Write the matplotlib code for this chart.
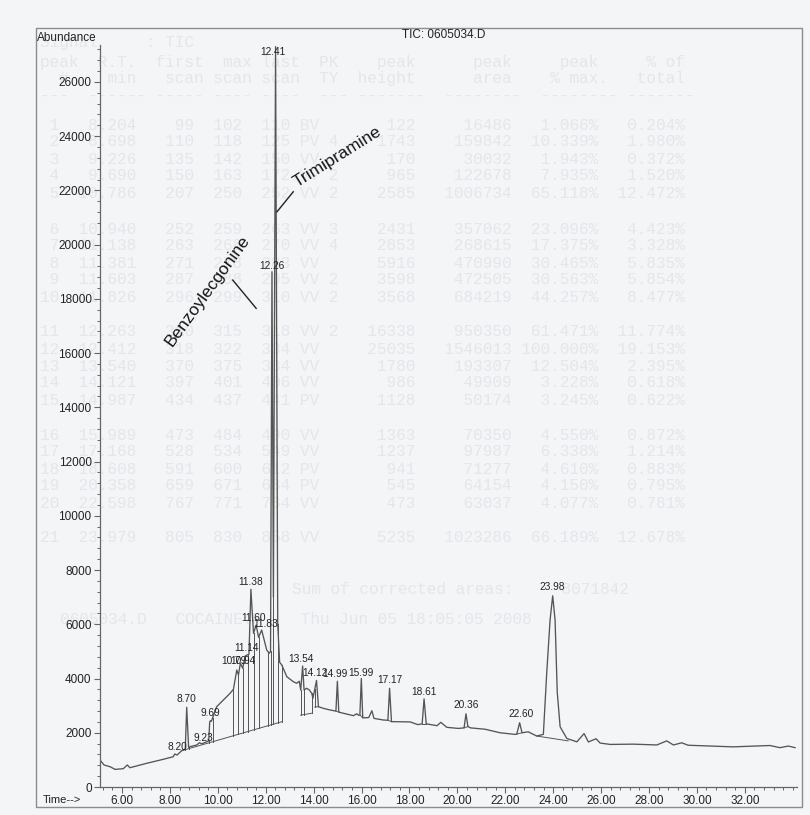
import matplotlib
matplotlib.use('Agg')
import matplotlib.pyplot as plt
from matplotlib.ticker import MultipleLocator, FormatStrFormatter
from matplotlib.patches import Rectangle
import numpy as np

plt.rcParams['font.family'] = ['Liberation Sans', 'DejaVu Sans']

tempo = [5.08, 5.25, 5.50, 5.71, 6.05, 6.22, 6.33, 7.03, 7.72, 8.14, 8.20, 8.30,
         8.49, 8.64, 8.70, 8.78, 8.84, 9.12, 9.23, 9.32, 9.54, 9.62, 9.66, 9.69,
         9.73, 9.95, 10.16, 10.51, 10.65, 10.79, 10.86, 10.94, 11.04, 11.14, 11.30,
         11.38, 11.49, 11.60, 11.70, 11.83, 12.04, 12.15, 12.20, 12.26, 12.32, 12.41,
         12.50, 12.58, 12.67, 12.88, 13.15, 13.29, 13.40, 13.46, 13.54, 13.60, 13.71,
         13.82, 13.92, 13.97, 14.12, 14.20, 14.41, 14.69, 14.93, 14.99, 15.05, 15.66,
         15.80, 15.88, 15.93, 15.99, 16.05, 16.30, 16.43, 16.52, 16.91, 17.10, 17.17,
         17.25, 18.03, 18.35, 18.53, 18.61, 18.70, 19.15, 19.31, 19.56, 20.04, 20.28,
         20.36, 20.44, 20.55, 21.16, 21.78, 22.41, 22.48, 22.60, 22.70, 22.96, 23.31,
         23.59, 23.73, 23.87, 23.98, 24.08, 24.17, 24.29, 24.57, 24.99, 25.29, 25.47,
         25.79, 25.96, 26.38, 27.35, 28.33, 28.74, 29.02, 29.37, 29.63, 31.52, 33.05,
         33.47, 33.82, 34.10]
abundancia = [995, 811, 748, 650, 675, 811, 711, 874, 1021, 1117, 1217, 1180,
              1338, 1400, 2939, 1460, 1486, 1549, 1633, 1590, 1670, 1700, 2400, 2445,
              2420, 2960, 3145, 3455, 3600, 4314, 4130, 4560, 4380, 4830, 4900,
              7290, 5667, 5973, 5519, 5788, 5051, 4930, 5000, 19000, 7000, 27300,
              6000, 4600, 4498, 4067, 3882, 3823, 3900, 3576, 4461, 3576, 3640,
              3576, 3455, 3270, 3930, 2960, 2900, 2839, 2800, 3900, 2760, 2630,
              2700, 2640, 2660, 4000, 2550, 2560, 2813, 2530, 2470, 2460, 3640,
              2410, 2400, 2300, 2330, 3250, 2330, 2260, 2385, 2200, 2160, 2180,
              2700, 2230, 2180, 2130, 2000, 1940, 1950, 2370, 2000, 2035, 1880,
              1940, 4185, 6150, 7050, 6150, 3500, 2220, 1790, 1665, 1970, 1660,
              1780, 1620, 1570, 1580, 1550, 1700, 1550, 1630, 1540, 1480, 1530,
              1450, 1510, 1450]

# Picos rotulados (tempo de retencao)
picos_rt = [8.20, 8.70, 9.23, 9.69, 10.79, 10.94, 11.14, 11.38, 11.60, 11.83, 12.26,
            12.41, 13.54, 14.12, 14.99, 15.99, 17.17, 18.61, 20.36, 22.60, 23.98]

# Linhas de base da integracao (inicio/fim) e linhas de queda
base_t0 = [8.49, 13.46, 14.05, 14.93, 15.93, 17.10, 18.53, 20.28, 22.48, 23.31]
base_v0 = [1338, 2650, 2950, 2800, 2660, 2460, 2330, 2180, 1950, 1880]
base_t1 = [12.67, 13.92, 14.20, 15.05, 16.05, 17.25, 18.70, 20.44, 22.70, 24.63]
base_v1 = [2408, 2720, 2960, 2760, 2550, 2410, 2330, 2230, 2000, 1700]
quedas_t = [8.64, 8.78, 9.62, 9.78, 10.65, 10.86, 11.04, 11.25, 11.49, 11.70, 12.10,
            12.20, 12.32, 12.50, 12.67, 13.46, 13.60, 13.92, 14.05, 14.20]

# Tabela impressa no verso da folha (aparece apagada no scan)
tabela = [
    (1, '8.204', 99, 102, 110, 'BV', '', 122, 16486, '1.066%', '0.204%'),
    (2, '8.698', 110, 118, 125, 'PV', '4', 1743, 159842, '10.339%', '1.980%'),
    (3, '9.226', 135, 142, 150, 'VV', '', 170, 30032, '1.943%', '0.372%'),
    (4, '9.690', 150, 163, 172, 'VV', '2', 965, 122678, '7.935%', '1.520%'),
    (5, '10.786', 207, 250, 252, 'VV', '2', 2585, 1006734, '65.118%', '12.472%'),
    (6, '10.940', 252, 259, 263, 'VV', '3', 2431, 357062, '23.096%', '4.423%'),
    (7, '11.138', 263, 268, 270, 'VV', '4', 2853, 268615, '17.375%', '3.328%'),
    (8, '11.381', 271, 278, 283, 'VV', '', 5916, 470990, '30.465%', '5.835%'),
    (9, '11.603', 287, 288, 295, 'VV', '2', 3598, 472505, '30.563%', '5.854%'),
    (10, '11.826', 296, 299, 310, 'VV', '2', 3568, 684219, '44.257%', '8.477%'),
    (11, '12.263', 310, 315, 318, 'VV', '2', 16338, 950350, '61.471%', '11.774%'),
    (12, '12.412', 318, 322, 334, 'VV', '', 25035, 1546013, '100.000%', '19.153%'),
    (13, '13.540', 370, 375, 384, 'VV', '', 1780, 193307, '12.504%', '2.395%'),
    (14, '14.121', 397, 401, 406, 'VV', '', 986, 49909, '3.228%', '0.618%'),
    (15, '14.987', 434, 437, 441, 'PV', '', 1128, 50174, '3.245%', '0.622%'),
    (16, '15.989', 473, 484, 490, 'VV', '', 1363, 70350, '4.550%', '0.872%'),
    (17, '17.168', 528, 534, 549, 'VV', '', 1237, 97987, '6.338%', '1.214%'),
    (18, '18.608', 591, 600, 612, 'PV', '', 941, 71277, '4.610%', '0.883%'),
    (19, '20.358', 659, 671, 684, 'PV', '', 545, 64154, '4.150%', '0.795%'),
    (20, '22.598', 767, 771, 784, 'VV', '', 473, 63037, '4.077%', '0.781%'),
    (21, '23.979', 805, 830, 858, 'VV', '', 5235, 1023286, '66.189%', '12.678%'),
]
tabela_y = [125, 142, 159, 176, 193, 229, 246, 263, 280, 297, 332, 349, 366, 383, 400,
            435, 452, 469, 486, 503, 537]

W, H = 810, 815
fig = plt.figure(figsize=(W / 100, H / 100), dpi=100, facecolor='#f3f5f7')

def fx(x):
    return x / W

def fy(y):
    return 1 - y / H

# Texto apagado do verso
cor_fundo = '#e3e7eb'
fonte_mono = dict(family='Liberation Mono', fontsize=11.6, color=cor_fundo, va='center', ha='left', zorder=-2)
fig.text(fx(40), fy(42), 'Signal     : TIC', **fonte_mono)
fig.text(fx(40), fy(62), 'peak  R.T.  first  max last  PK    peak      peak     peak     % of', **fonte_mono)
fig.text(fx(40), fy(79), '  #    min   scan scan scan  TY  height      area    % max.   total', **fonte_mono)
fig.text(fx(40), fy(96), '---  ------ ----- ---- ----  --- -------  --------  -------- -------', **fonte_mono)
for linha, y in zip(tabela, tabela_y):
    n, rt, p, m, u, pk, ty, alt, area, pmax, ptot = linha
    s = f"{n:>2}{rt:>8}{p:>6}{m:>5}{u:>5} {pk}{ty:>2}{alt:>8}{area:>10}{pmax:>9}{ptot:>9}"
    fig.text(fx(40), fy(y), s, **fonte_mono)
fig.text(fx(292), fy(590), 'Sum of corrected areas:     8071842', **fonte_mono)
fig.text(fx(60), fy(620), '0605034.D   COCAINE.M    Thu Jun 05 18:05:05 2008', **fonte_mono)

# Moldura externa
fig.patches.append(Rectangle((fx(36), fy(806.7)), (801.7 - 36) / W, (806.7 - 28) / H,
                             transform=fig.transFigure, fill=False, edgecolor='#8a8d90',
                             linewidth=1.0, zorder=-1))

ax = fig.add_axes([fx(100), fy(787), (797 - 100) / W, (787 - 45) / H])
ax.patch.set_alpha(0)

cor_linha = '#555555'
ax.plot(tempo, abundancia, color=cor_linha, linewidth=0.95)

# Linhas de base e quedas
for t0, v0, t1, v1 in zip(base_t0, base_v0, base_t1, base_v1):
    ax.plot([t0, t1], [v0, v1], color=cor_linha, linewidth=0.7)
for t in quedas_t:
    for t0, v0, t1, v1 in zip(base_t0, base_v0, base_t1, base_v1):
        if t0 <= t <= t1:
            vb = np.interp(t, [t0, t1], [v0, v1])
            ax.plot([t, t], [vb, np.interp(t, tempo, abundancia)], color=cor_linha, linewidth=0.7)
            break

# Rotulos dos picos (deslocamento em pixels)
ajuste = {8.20: (3, 2), 9.23: (4, 0), 10.79: (-3, 4), 10.94: (3, -3), 11.14: (1, 3),
          11.38: (0, 2), 11.60: (-3, 2), 11.83: (4, 1), 12.26: (0, 1), 12.41: (-3, -10),
          13.54: (-2, 2), 14.12: (-2, 2), 14.99: (-2, 2), 15.99: (0, 1), 18.61: (0, 2),
          20.36: (0, 4), 22.60: (1, 4), 23.98: (-1, 4)}
for rt in picos_rt:
    dx, dy = ajuste.get(rt, (0, 3))
    ax.annotate(f'{rt:.2f}', xy=(rt, np.interp(rt, tempo, abundancia)), xytext=(dx, dy),
                textcoords='offset pixels', ha='center', va='bottom', fontsize=7.3,
                color='#222222', annotation_clip=False)

# Identificacao dos compostos
ax.text(15.00, 23240, 'Trimipramine', rotation=32, rotation_mode='anchor', ha='center',
        va='center', fontsize=12.5, color='#151515')
ax.plot([12.47, 13.15], [21211, 21949], color='#222222', linewidth=1.0)
ax.text(9.59, 18288, 'Benzoylecgonine', rotation=54, rotation_mode='anchor', ha='center',
        va='center', fontsize=12.5, color='#151515')
ax.plot([10.62, 11.60], [18693, 17650], color='#222222', linewidth=1.0)

ax.set_xlim(5.08, 34.18)
ax.set_ylim(0, 27360)
ax.xaxis.set_major_locator(MultipleLocator(2))
ax.xaxis.set_minor_locator(MultipleLocator(0.4))
ax.xaxis.set_major_formatter(FormatStrFormatter('%.2f'))
ax.yaxis.set_major_locator(MultipleLocator(2000))
ax.yaxis.set_minor_locator(MultipleLocator(400))
ax.set_xticks([t for t in np.arange(6, 33, 2)])
ax.tick_params(which='major', direction='out', length=4, width=0.8, color='#666666',
               labelcolor='#222222', labelsize=8.5, pad=2)
ax.tick_params(which='minor', direction='out', length=2.5, width=0.7, color='#666666')
for lado in ['top', 'right']:
    ax.spines[lado].set_visible(False)
for lado in ['left', 'bottom']:
    ax.spines[lado].set_color('#666666')
    ax.spines[lado].set_linewidth(0.9)

fig.text(fx(37), fy(38), 'Abundance', fontsize=8.5, color='#222222', ha='left', va='center')
fig.text(fx(43), fy(800), 'Time-->', fontsize=8, color='#222222', ha='left', va='center')
fig.text(fx(402), fy(35), 'TIC: 0605034.D', fontsize=8.5, color='#222222', ha='left', va='center')

plt.savefig('out.png', dpi=100, facecolor=fig.get_facecolor())
plt.close()
